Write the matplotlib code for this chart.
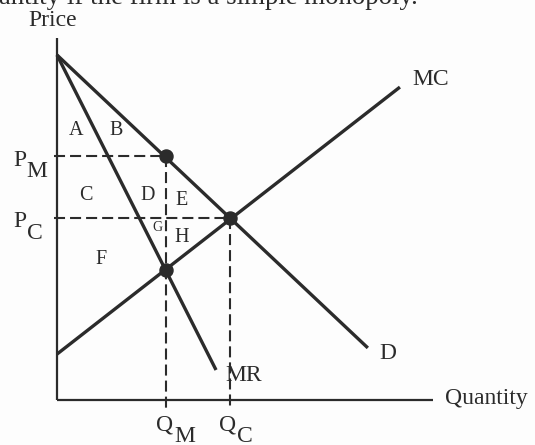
import matplotlib
matplotlib.use("Agg")
import matplotlib.pyplot as plt

# Curves (quantity, price) in chart units
demand_q = [0.0, 9.01]
demand_p = [10.0, 1.51]
mr_q = [0.0, 4.61]
mr_p = [10.0, 0.87]
mc_q = [0.0, 9.94]
mc_p = [1.33, 9.07]

# Key points
q_m, p_m = 3.16, 7.07       # monopoly
q_c, p_c = 5.01, 5.28       # competitive
mr_mc = 3.77                # MR = MC price at Q_M

x_max, y_max = 10.9, 10.49

ink = "#2b2b2b"
serif = "Liberation Serif"

fig = plt.figure(figsize=(5.35, 4.45), dpi=100)
fig.patch.set_facecolor("#fdfdfd")
ax = fig.add_axes([0, 0, 1, 1])
ax.set_xlim(-1.652, 13.855)
ax.set_ylim(-1.304, 11.594)
ax.axis("off")

# axes
ax.plot([0, 0], [0, y_max], color=ink, lw=1.6, solid_capstyle="butt")
ax.plot([0, x_max], [0, 0], color=ink, lw=1.6, solid_capstyle="butt")

# dashed guides
dash = dict(color=ink, lw=1.5, dashes=(5.3, 2.4))
ax.plot([-0.1, q_m], [p_m, p_m], **dash)
ax.plot([-0.1, q_c], [p_c, p_c], **dash)
ax.plot([q_m, q_m], [p_m, -0.25], **dash)
ax.plot([q_c, q_c], [p_c, -0.25], **dash)

# curves
for q, p in [(demand_q, demand_p), (mr_q, mr_p), (mc_q, mc_p)]:
    ax.plot(q, p, color=ink, lw=2.4, solid_capstyle="butt")

# points
ax.plot([q_m, q_c, q_m], [p_m, p_c, mr_mc], "o", color=ink, ms=9.4)

txt = dict(color=ink, family=serif, ha="center", va="center")
big = 17
for lab, x, y in [("A", 0.55, 7.80), ("B", 1.71, 7.80), ("C", 0.84, 5.94),
                  ("D", 2.64, 5.94), ("E", 3.62, 5.77), ("H", 3.62, 4.72),
                  ("F", 1.28, 4.06)]:
    ax.text(x, y, lab, fontsize=14.5, **txt)
ax.text(2.90, 4.99, "G", fontsize=10, **txt)

ax.text(10.84, 9.28, "MC", fontsize=big, **txt)
ax.text(9.59, 1.36, "D", fontsize=big, **txt)
ax.text(5.42, 0.70, "MR", fontsize=big, **txt)
ax.text(11.25, 0.05, "Quantity", fontsize=big, color=ink, family=serif,
        ha="left", va="center")
ax.text(-0.12, 11.0, "Price", fontsize=big, **txt)

# P_M, P_C
ax.text(-1.07, 6.93, "P", fontsize=big, **txt)
ax.text(-0.58, 6.61, "M", fontsize=big, **txt)
ax.text(-1.07, 5.16, "P", fontsize=big, **txt)
ax.text(-0.64, 4.84, "C", fontsize=big, **txt)
# Q_M, Q_C
ax.text(3.12, -0.72, "Q", fontsize=big, **txt)
ax.text(3.71, -1.07, "M", fontsize=big, **txt)
ax.text(4.93, -0.72, "Q", fontsize=big, **txt)
ax.text(5.45, -1.07, "C", fontsize=big, **txt)

# clipped line of text at the top
ax.text(10.46, 11.48, "Quantity if the firm is a simple monopoly.", fontsize=19.4,
        color=ink, family=serif, ha="right", va="baseline")

fig.savefig("out.png", dpi=100, facecolor=fig.get_facecolor())
